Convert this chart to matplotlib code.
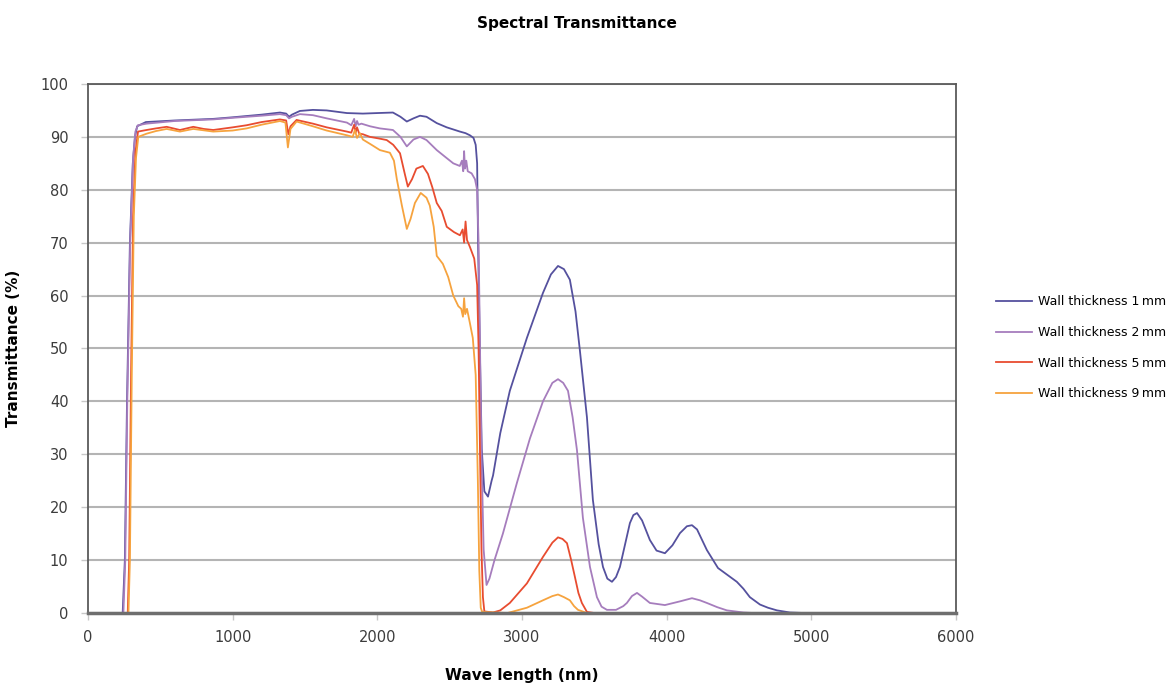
# spectral transmittance of glass tubes, four wall thicknesses

import matplotlib
matplotlib.use("Agg")
import matplotlib.pyplot as plt

# values (wavelength in nm, transmittance in %)
wl_1mm = [200, 240, 255, 270, 290, 310, 325, 340, 400, 600, 866, 1000, 1200, 1327, 1370, 1390, 1410,
          1465, 1555, 1650, 1790, 1900, 2000, 2108, 2160, 2204, 2250, 2295, 2340, 2411, 2480, 2571,
          2610, 2640, 2665, 2680, 2690, 2697, 2710, 2722, 2740, 2765, 2790, 2800, 2850, 2916, 3034,
          3145, 3200, 3249, 3290, 3331, 3370, 3400, 3449, 3490, 3530, 3560, 3590, 3622, 3650, 3677,
          3746, 3770, 3795, 3830, 3884, 3930, 3988, 4040, 4092, 4140, 4175, 4210, 4278, 4355, 4420,
          4485, 4530, 4575, 4645, 4700, 4762, 4852, 4950, 5500]
t_1mm = [0, 0, 10, 40, 70, 85, 90, 92, 92.8, 93.1, 93.4, 93.7, 94.2, 94.6, 94.4, 93.8, 94.2,
         94.9, 95.1, 95, 94.5, 94.4, 94.5, 94.6, 93.8, 92.9, 93.5, 94, 93.8, 92.6, 91.8, 91,
         90.7, 90.3, 89.8, 88.5, 85, 69, 48, 31, 23, 22, 25, 26, 34, 42, 52,
         60.5, 64, 65.6, 65, 63, 57, 49.7, 37, 21.4, 13, 8.7, 6.5, 5.9, 6.8, 8.7,
         17, 18.5, 18.9, 17.5, 13.8, 11.8, 11.3, 12.8, 15.1, 16.4, 16.6, 15.8, 11.9, 8.5, 7.2,
         5.9, 4.6, 3, 1.6, 1, 0.5, 0.1, 0, 0]

wl_2mm = [200, 245, 258, 272, 292, 312, 328, 345, 405, 600, 866, 1000, 1200, 1327, 1370, 1390, 1410,
          1465, 1555, 1650, 1790, 1820, 1840, 1850, 1860, 1870, 1890, 1950, 2018, 2108, 2160, 2204,
          2250, 2295, 2340, 2411, 2470, 2525, 2570, 2585, 2594, 2600, 2606, 2615, 2625, 2652, 2675,
          2690, 2700, 2710, 2720, 2735, 2755, 2775, 2810, 2868, 2965, 3055, 3145, 3210, 3249, 3285,
          3318, 3350, 3380, 3421, 3470, 3518, 3550, 3587, 3650, 3700, 3725, 3760, 3795, 3830, 3884,
          3988, 4092, 4175, 4230, 4278, 4350, 4416, 4530, 4600, 5500]
t_2mm = [0, 0, 10, 40, 70, 86, 91, 92.2, 92.5, 93, 93.3, 93.6, 94, 94.3, 94.1, 93.5, 93.8,
         94.3, 94.1, 93.5, 92.7, 92.2, 93.4, 92, 93, 92.3, 92.5, 92, 91.6, 91.3, 90, 88.2,
         89.5, 90, 89.4, 87.5, 86.2, 85, 84.5, 85.5, 83.5, 87.3, 84, 85.5, 83.5, 83.1, 82,
         80, 70, 50, 30, 12, 5.3, 6.5, 10, 15, 24.6, 33, 40, 43.5, 44.2, 43.5,
         42, 37, 30.8, 18, 8.7, 3, 1.2, 0.6, 0.6, 1.3, 1.9, 3.2, 3.8, 3.1, 1.9,
         1.5, 2.2, 2.8, 2.4, 1.9, 1.1, 0.5, 0.1, 0, 0]

wl_5mm = [200, 275, 285, 298, 312, 328, 346, 405, 470, 544, 636, 728, 800, 866, 1000, 1097, 1200,
          1327, 1370, 1385, 1400, 1442, 1555, 1650, 1790, 1820, 1840, 1850, 1860, 1875, 1900, 1949,
          2010, 2065, 2110, 2157, 2190, 2211, 2240, 2270, 2315, 2350, 2380, 2411, 2445, 2480, 2530,
          2571, 2590, 2600, 2610, 2620, 2640, 2670, 2690, 2700, 2710, 2720, 2730, 2740, 2800, 2850,
          2916, 3034, 3145, 3210, 3249, 3280, 3311, 3340, 3366, 3390, 3414, 3449, 3500, 5500]
t_5mm = [0, 0, 10, 45, 75, 87, 91, 91.3, 91.6, 91.9, 91.3, 91.9, 91.5, 91.3, 91.8, 92.2, 92.8,
         93.3, 93.1, 90.5, 92, 93.2, 92.5, 91.8, 91, 90.8, 92.3, 90.8, 91.8, 90.6, 90.5, 90,
         89.7, 89.4, 88.5, 86.9, 83, 80.6, 82, 84, 84.5, 83, 80.5, 77.5, 76, 73, 72,
         71.4, 72.5, 70, 74, 70.5, 69.2, 67, 62, 50, 30, 12, 3, 0.3, 0.1, 0.5,
         1.9, 5.6, 10.6, 13.3, 14.3, 14, 13.2, 10, 6.8, 3.8, 1.9, 0.2, 0, 0]

wl_9mm = [200, 280, 290, 303, 317, 332, 348, 405, 470, 544, 636, 728, 866, 1000, 1097, 1200, 1327,
          1365, 1382, 1400, 1442, 1555, 1650, 1790, 1830, 1845, 1860, 1880, 1900, 1960, 2018, 2087,
          2115, 2135, 2170, 2204, 2230, 2260, 2300, 2340, 2363, 2390, 2411, 2453, 2490, 2525, 2560,
          2580, 2592, 2600, 2608, 2620, 2640, 2660, 2680, 2695, 2705, 2715, 2725, 2900, 3034, 3145,
          3210, 3249, 3290, 3331, 3360, 3387, 3449, 5500]
t_9mm = [0, 0, 10, 45, 75, 86, 90, 90.6, 91.1, 91.5, 91, 91.5, 91, 91.2, 91.6, 92.3, 93,
         92.7, 88, 91.5, 92.9, 92, 91.2, 90.3, 90, 91.3, 89.8, 90.7, 89.5, 88.5, 87.5, 87,
         85.5, 82, 77, 72.6, 74.5, 77.5, 79.4, 78.5, 77, 73, 67.5, 66, 63.5, 60, 58,
         57.5, 56, 59.5, 56.5, 57.5, 54.8, 52, 45, 25, 8, 1, 0.2, 0, 1, 2.4,
         3.2, 3.5, 3, 2.4, 1.3, 0.6, 0, 0]

labels = ["Wall thickness 1\u2009mm", "Wall thickness 2\u2009mm",
          "Wall thickness 5\u2009mm", "Wall thickness 9\u2009mm"]
colors = ["#55519e", "#a67dbd", "#e84c30", "#f6a33e"]

x_ticks = [0, 1000, 2000, 3000, 4000, 5000, 6000]
y_ticks = [0, 10, 20, 30, 40, 50, 60, 70, 80, 90, 100]

fig = plt.figure(figsize=(11.68, 6.86), dpi=100)
ax = fig.add_axes([0.0753, 0.1064, 0.7432, 0.7712])

series = [(wl_1mm, t_1mm), (wl_2mm, t_2mm), (wl_5mm, t_5mm), (wl_9mm, t_9mm)]
for (wl, t), lab, c in zip(series, labels, colors):
    ax.plot(wl, t, color=c, lw=1.3, label=lab, zorder=3)

ax.set_xlim(0, 6000)
ax.set_ylim(0, 100)
ax.set_xticks(x_ticks)
ax.set_yticks(y_ticks)
ax.yaxis.grid(True, color="#b4b4b4", lw=1.5)
ax.set_axisbelow(True)

for side in ["top", "left", "right"]:
    ax.spines[side].set_color("#5a5a5a")
    ax.spines[side].set_linewidth(1.3)
ax.spines["bottom"].set_color("#6e6e6e")
ax.spines["bottom"].set_linewidth(2.5)
ax.spines["bottom"].set_zorder(4)

ax.tick_params(axis="both", colors="#c8c8c8", length=5, width=1, labelsize=10.5,
               labelcolor="#3c3c3c", pad=7)
ax.tick_params(axis="y", pad=9)

ax.set_xlabel("Wave length (nm)", fontsize=11, fontweight="bold", labelpad=17)
ax.set_ylabel("Transmittance (%)", fontsize=11, fontweight="bold", labelpad=14)
fig.text(0.494, 0.966, "Spectral Transmittance", ha="center", va="center",
         fontsize=11, fontweight="bold")

fig.legend(loc="center left", bbox_to_anchor=(0.843, 0.493), frameon=False,
           fontsize=9, handlelength=2.9, handletextpad=0.45, labelspacing=1.42)

fig.savefig("out.png", dpi=100)
